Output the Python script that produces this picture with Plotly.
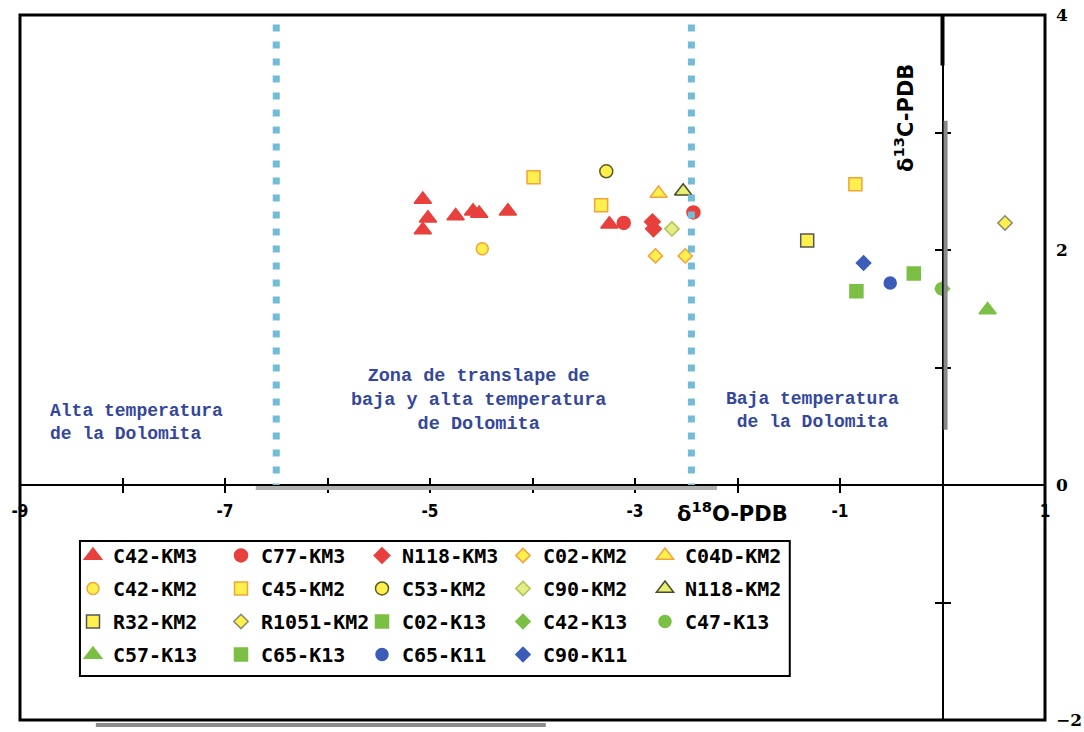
import plotly.graph_objects as go

# ---------------- data ----------------
series_names = ["C42-KM3", "C77-KM3", "N118-KM3", "C02-KM2", "C04D-KM2",
                "C42-KM2", "C45-KM2", "C53-KM2", "C90-KM2", "N118-KM2",
                "R32-KM2", "R1051-KM2", "C02-K13", "C42-K13", "C47-K13",
                "C57-K13", "C65-K13", "C65-K11", "C90-K11"]

c42_km3_x = [-5.07, -5.02, -5.07, -4.75, -4.58, -4.52, -4.24, -3.25]
c42_km3_y = [2.43, 2.27, 2.17, 2.29, 2.33, 2.31, 2.33, 2.22]
c77_km3_x = [-3.11, -2.43]
c77_km3_y = [2.23, 2.32]
n118_km3_x = [-2.83, -2.82]
n118_km3_y = [2.24, 2.18]
c02_km2_x = [-2.80, -2.51]
c02_km2_y = [1.95, 1.95]
c04d_km2_x = [-2.77]
c04d_km2_y = [2.48]
c42_km2_x = [-4.49]
c42_km2_y = [2.01]
c45_km2_x = [-3.99, -3.33, -0.85]
c45_km2_y = [2.62, 2.38, 2.56]
c53_km2_x = [-3.28]
c53_km2_y = [2.67]
c90_km2_x = [-2.64]
c90_km2_y = [2.18]
n118_km2_x = [-2.53]
n118_km2_y = [2.50]
r32_km2_x = [-1.32]
r32_km2_y = [2.08]
r1051_km2_x = [0.61]
r1051_km2_y = [2.23]
c02_k13_x = [-0.84]
c02_k13_y = [1.65]
c42_k13_x = [0.0]
c42_k13_y = [1.67]
c47_k13_x = [-0.01]
c47_k13_y = [1.67]
c57_k13_x = [0.44]
c57_k13_y = [1.49]
c65_k13_x = [-0.28]
c65_k13_y = [1.80]
c65_k11_x = [-0.51]
c65_k11_y = [1.72]
c90_k11_x = [-0.77]
c90_k11_y = [1.89]

x_values = [c42_km3_x, c77_km3_x, n118_km3_x, c02_km2_x, c04d_km2_x,
            c42_km2_x, c45_km2_x, c53_km2_x, c90_km2_x, n118_km2_x,
            r32_km2_x, r1051_km2_x, c02_k13_x, c42_k13_x, c47_k13_x,
            c57_k13_x, c65_k13_x, c65_k11_x, c90_k11_x]
y_values = [c42_km3_y, c77_km3_y, n118_km3_y, c02_km2_y, c04d_km2_y,
            c42_km2_y, c45_km2_y, c53_km2_y, c90_km2_y, n118_km2_y,
            r32_km2_y, r1051_km2_y, c02_k13_y, c42_k13_y, c47_k13_y,
            c57_k13_y, c65_k13_y, c65_k11_y, c90_k11_y]

zone_limits = [-6.5, -2.45]
x_label_vals = [-9, -7, -5, -3, -1, 1]
x_label_text = ["-9", "-7", "-5", "-3", "-1", "1"]
x_all_ticks = list(range(-9, 2))
y_label_vals = [-2, 0, 2, 4]
y_cross_ticks = [-1, 1, 2, 3]

# ---------------- styles ----------------
RED = "#e8403d"
ORANGE = "#f2a33a"
YELLOW = "#fff04d"
GREEN = "#7cbf45"
BLUE = "#3b5cb8"
styles = [
    ("triangle-up", RED, RED, 15),
    ("circle", RED, RED, 13),
    ("diamond", RED, RED, 12),
    ("diamond", YELLOW, ORANGE, 11),
    ("triangle-up", YELLOW, ORANGE, 15),
    ("circle", YELLOW, ORANGE, 12),
    ("square", YELLOW, ORANGE, 13),
    ("circle", YELLOW, "#5c5c20", 13),
    ("diamond", "#e4ee86", "#b5bf5a", 11),
    ("triangle-up", "#e8ee70", "#4a4a30", 15),
    ("square", YELLOW, "#555555", 13),
    ("diamond", YELLOW, "#8a8a70", 11),
    ("square", GREEN, GREEN, 13),
    ("diamond", GREEN, GREEN, 11),
    ("circle", GREEN, GREEN, 12),
    ("triangle-up", GREEN, GREEN, 15),
    ("square", GREEN, GREEN, 13),
    ("circle", BLUE, BLUE, 12),
    ("diamond", BLUE, BLUE, 11),
]

fig = go.Figure()

legend_names = ["legend", "legend2", "legend3", "legend4", "legend5"]
for i, name in enumerate(series_names):
    sym, fill, edge, size = styles[i]
    fig.add_trace(go.Scatter(
        x=x_values[i], y=y_values[i], mode="markers", name=name,
        legend=legend_names[i % 5], legendgroup=name,
        marker=dict(symbol=sym, color=fill, size=size,
                    line=dict(color=edge, width=1.5)),
    ))

# empty traces so that the overlay tick axes are drawn
fig.add_trace(go.Scatter(x=[None], y=[None], xaxis="x2", yaxis="y2",
                         showlegend=False, hoverinfo="skip"))
fig.add_trace(go.Scatter(x=[None], y=[None], xaxis="x2", yaxis="y3",
                         showlegend=False, hoverinfo="skip"))

# dotted zone boundaries
for xv in zone_limits:
    fig.add_shape(type="line", x0=xv, x1=xv, y0=3.92, y1=0.0,
                  xref="x", yref="y",
                  line=dict(color="#72bcd8", width=7, dash="7px,10px"))

# plot frame
fig.add_shape(type="rect", xref="paper", yref="paper", x0=0, x1=1, y0=0, y1=1,
              line=dict(color="black", width=3))
# legend box
fig.add_shape(type="rect", xref="paper", yref="paper",
              x0=0.0585, x1=0.751, y0=0.0624, y1=0.254,
              line=dict(color="black", width=2), layer="below")

# scan artefacts along the axes
fig.add_shape(type="line", xref="x", yref="y", x0=0, x1=0, y0=4, y1=3.57,
              line=dict(color="black", width=4))
fig.add_shape(type="line", xref="x", yref="y", x0=0.03, x1=0.03, y0=3.1, y1=0.47,
              line=dict(color="#8a8a8a", width=4))
fig.add_shape(type="line", xref="x", yref="y", x0=-6.7, x1=-2.2, y0=-0.025, y1=-0.025,
              line=dict(color="#b0b0b0", width=4))
fig.add_shape(type="line", xref="paper", yref="paper", x0=0.074, x1=0.513,
              y0=-0.007, y1=-0.007, line=dict(color="#8c8c8c", width=4))

BLUE_TXT = "#34479c"
mono = "Liberation Mono, Courier New, monospace"
fig.add_annotation(x=-8.73, y=0.53, xref="x", yref="y", xanchor="left",
                   text="Alta temperatura<br>de la Dolomita", showarrow=False,
                   align="left", font=dict(family=mono, size=18, color=BLUE_TXT, weight="bold"))
fig.add_annotation(x=-4.53, y=0.72, xref="x", yref="y",
                   text="Zona de translape de<br>baja y alta temperatura<br>de Dolomita",
                   showarrow=False, align="center",
                   font=dict(family=mono, size=18.5, color=BLUE_TXT, weight="bold"))
fig.add_annotation(x=-1.27, y=0.63, xref="x", yref="y",
                   text="Baja temperatura<br>de la Dolomita", showarrow=False,
                   align="center", font=dict(family=mono, size=18, color=BLUE_TXT, weight="bold"))

# axis titles
sans = "DejaVu Sans, Liberation Sans, Arial, sans-serif"
fig.add_annotation(x=-2.05, y=-0.23, xref="x", yref="y",
                   text="δ<sup>18</sup>O-PDB", showarrow=False,
                   font=dict(family=sans, size=21, color="black", weight="bold"))
fig.add_annotation(x=-0.37, y=3.12, xref="x", yref="y", textangle=-90,
                   text="δ<sup>13</sup>C-PDB", showarrow=False,
                   font=dict(family=sans, size=21, color="black", weight="bold"))

tickfont = dict(family="Liberation Sans Narrow, DejaVu Sans Condensed, Arial Narrow, sans-serif",
                size=17, color="black", weight="bold")

legend_x_px = [97, 245, 386, 527, 669]
legend_common = dict(orientation="v", bgcolor="rgba(0,0,0,0)", borderwidth=0,
                     yanchor="top", y=0.261, xanchor="left",
                     tracegroupgap=4, itemclick=False,
                     font=dict(family="DejaVu Sans Mono, monospace", size=20,
                               color="black", weight="bold"))
legends = {}
for c, ln in enumerate(legend_names):
    legends[ln] = dict(legend_common, x=(legend_x_px[c] - 24 - 20) / 1025)

fig.update_layout(
    width=1084, height=732,
    margin=dict(l=20, r=39, t=15, b=12, autoexpand=False),
    paper_bgcolor="white", plot_bgcolor="white",
    showlegend=True,
    xaxis=dict(range=[-9, 1], anchor="free", position=1 / 3, automargin=False,
               showline=True, linecolor="black", linewidth=2,
               tickmode="array", tickvals=x_label_vals, ticktext=x_label_text,
               ticks="outside", ticklen=7, tickwidth=1.5, tickcolor="black",
               minor=dict(tickmode="array", tickvals=x_all_ticks, ticks="outside",
                          ticklen=7, tickwidth=1.5, tickcolor="black", showgrid=False),
               showgrid=False, zeroline=False, tickfont=tickfont,
               ticklabelstandoff=4),
    xaxis2=dict(range=[-9, 1], overlaying="x", anchor="free", position=1 / 3,
                automargin=False, showline=False, tickmode="array",
                tickvals=x_all_ticks, ticks="inside",
                ticklen=7, tickwidth=1.5, tickcolor="black",
                showticklabels=False, showgrid=False, zeroline=False),
    yaxis=dict(range=[-2, 4], side="right", anchor="x", showline=False,
               automargin=False, tickmode="array",
               tickvals=y_label_vals, ticks="", showgrid=False, zeroline=False,
               tickfont=dict(family="DejaVu Serif, serif", size=17,
                             color="black", weight="bold"),
               ticklabelstandoff=10),
    yaxis2=dict(range=[-2, 4], overlaying="y", anchor="free", position=0.9,
                automargin=False, side="left", showline=True, linecolor="black",
                linewidth=2, tickmode="array",
                tickvals=y_cross_ticks, ticks="outside", ticklen=7, tickwidth=1.5,
                tickcolor="black", showticklabels=False, showgrid=False,
                zeroline=False),
    yaxis3=dict(range=[-2, 4], overlaying="y", anchor="free", position=0.9,
                automargin=False, side="left", showline=False, tickmode="array",
                tickvals=y_cross_ticks,
                ticks="inside", ticklen=7, tickwidth=1.5, tickcolor="black",
                showticklabels=False, showgrid=False, zeroline=False),
    **legends,
)

fig.write_html("out.html",
               config={"displayModeBar": False},
               post_script="document.body.style.margin='0';"
                           "document.body.style.overflow='hidden';")
